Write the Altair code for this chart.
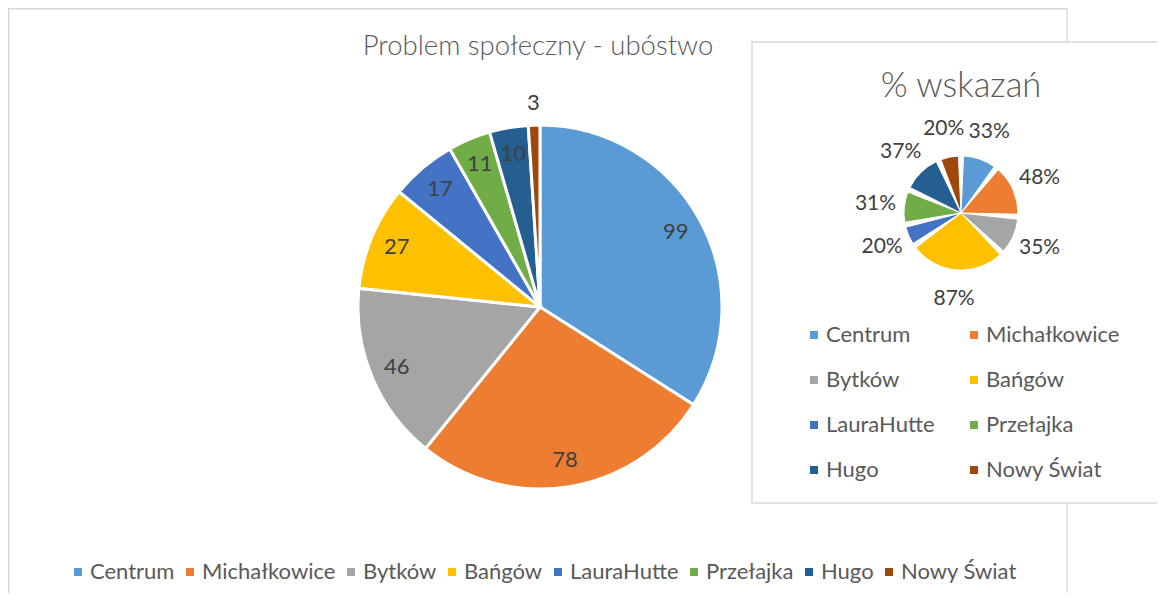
import altair as alt
import pandas as pd

districts = ["Centrum", "Michałkowice", "Bytków", "Bańgów", "LauraHutte",
             "Przełajka", "Hugo", "Nowy Świat"]
counts = [99, 78, 46, 27, 17, 11, 10, 3]
percents = [33, 48, 35, 87, 20, 31, 37, 20]
colors = ["#5B9BD5", "#ED7D31", "#A5A5A5", "#FFC000", "#4472C4",
          "#70AD47", "#255E91", "#9E480E"]

main_title = "Problem społeczny - ubóstwo"
inset_title = "% wskazań"

FONT = "Lato"
LABEL_COLOR = "#404040"
TEXT_COLOR = "#595959"
BORDER = "#D9D9D9"

big_df = pd.DataFrame({"dzielnica": districts, "liczba": counts,
                       "idx": list(range(len(districts)))})
small_df = pd.DataFrame({"dzielnica2": districts, "procent": percents,
                         "idx": list(range(len(districts)))})
small_df["etykieta"] = [f"{p}%" for p in percents]

one = alt.Data(values=[{}])

# outer frame
frame = alt.Chart(one).mark_rect(fillOpacity=0, stroke=BORDER, strokeWidth=1.5).encode(
    x=alt.value(0.75), x2=alt.value(1059), y=alt.value(0.75), y2=alt.value(620))

# big pie
BCX, BCY = 532, 299
base_big = alt.Chart(big_df).encode(
    theta=alt.Theta("liczba:Q", stack=True),
    order=alt.Order("idx:Q"),
    x=alt.value(BCX), y=alt.value(BCY),
)
big_arcs = base_big.mark_arc(outerRadius=182, stroke="white", strokeWidth=3).encode(
    color=alt.Color(
        "dzielnica:N",
        scale=alt.Scale(domain=districts, range=colors),
        legend=alt.Legend(
            title=None, orient="none", legendX=59, legendY=553,
            direction="horizontal", columns=8, columnPadding=4,
            symbolType="square", symbolSize=64, symbolStrokeWidth=0,
            labelOffset=1, labelFont=FONT, labelFontSize=22,
            labelColor=TEXT_COLOR, labelLimit=300, padding=0,
        ),
    )
)
big_in = base_big.transform_calculate(
    lab="datum.liczba >= 5 ? '' + datum.liczba : ''"
).mark_text(radius=155, font=FONT, fontSize=22, color=LABEL_COLOR).encode(text="lab:N")
big_out = base_big.transform_calculate(
    lab="datum.liczba < 5 ? '' + datum.liczba : ''"
).mark_text(radius=204, font=FONT, fontSize=22, color=LABEL_COLOR).encode(text="lab:N")
big_layer = alt.layer(big_arcs, big_in, big_out)

title1 = alt.Chart(one).mark_text(
    font=FONT, fontSize=27.5, fontWeight=300, color=TEXT_COLOR
).encode(x=alt.value(530), y=alt.value(39), text=alt.value(main_title))

# inset box
inset_box = alt.Chart(one).mark_rect(fill="white", stroke=BORDER, strokeWidth=1.5).encode(
    x=alt.value(744), x2=alt.value(1170), y=alt.value(34), y2=alt.value(495))

title2 = alt.Chart(one).mark_text(
    font=FONT, fontSize=34.5, fontWeight=300, color=TEXT_COLOR
).encode(x=alt.value(953), y=alt.value(79), text=alt.value(inset_title))

SCX, SCY = 953, 205
base_small = alt.Chart(small_df).encode(
    theta=alt.Theta("procent:Q", stack=True),
    order=alt.Order("idx:Q"),
    x=alt.value(SCX), y=alt.value(SCY),
)
small_arcs = base_small.mark_arc(outerRadius=57, padAngle=0.09, stroke="white",
                                 strokeWidth=1).encode(
    color=alt.Color(
        "dzielnica2:N",
        scale=alt.Scale(domain=districts, range=colors),
        legend=alt.Legend(
            title=None, orient="none", legendX=795, legendY=316,
            direction="horizontal", columns=2, columnPadding=28, rowPadding=23,
            symbolType="square", symbolSize=64, symbolStrokeWidth=0,
            labelOffset=1, labelFont=FONT, labelFontSize=22,
            labelColor=TEXT_COLOR, labelLimit=300, padding=0,
        ),
    )
)
small_lab = base_small.mark_text(radius=86, font=FONT, fontSize=21,
                                 color=LABEL_COLOR).encode(text="etykieta:N")
small_layer = alt.layer(small_arcs, small_lab)

chart = alt.layer(
    frame, big_layer, title1, inset_box, title2, small_layer
).resolve_scale(
    theta="independent", color="independent"
).properties(
    width=1149, height=585, autosize="none", padding=0
).configure_view(stroke=None)

chart.save("out.html", embed_options={"renderer": "svg", "actions": False})
